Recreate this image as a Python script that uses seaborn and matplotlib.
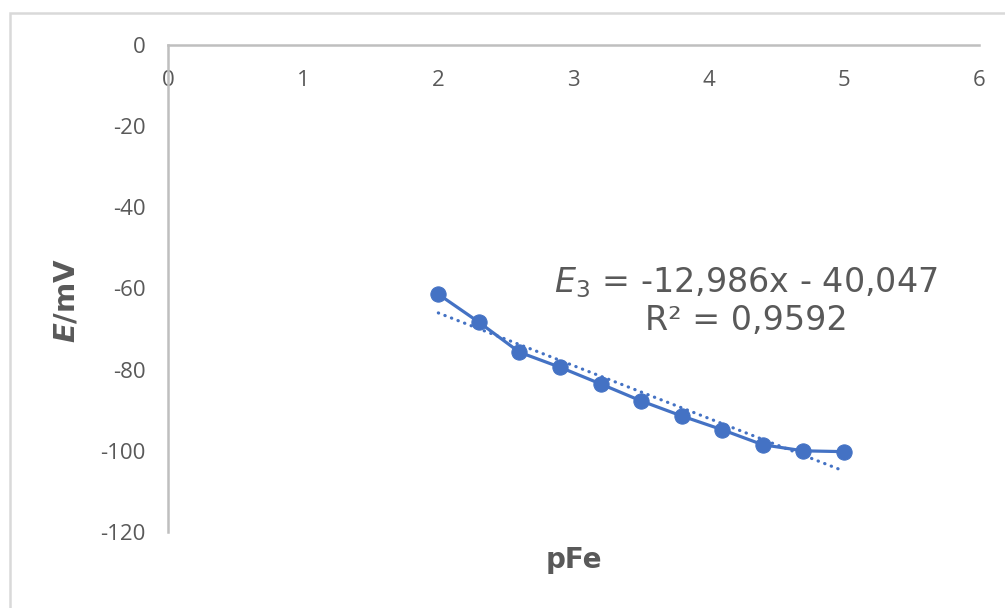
import pandas as pd
import seaborn as sns
import matplotlib.pyplot as plt
from matplotlib.patches import Rectangle

# values
pfe = [2.0, 2.3, 2.6, 2.9, 3.2, 3.5, 3.8, 4.1, 4.4, 4.7, 5.0]
e_mv = [-61.4, -68.3, -75.7, -79.4, -83.5, -87.7, -91.4, -94.8, -98.5, -100.0, -100.2]

# linear trendline as printed on the chart
slope = -12.986
intercept = -40.047
r_squared = "0,9592"

x_ticks = [0, 1, 2, 3, 4, 5, 6]
y_ticks = [0, -20, -40, -60, -80, -100, -120]

BLUE = "#4472C4"
GREY_TEXT = "#595959"
GREY_AXIS = "#BFBFBF"
GREY_BORDER = "#D9D9D9"

sns.set_theme(style="white")
plt.rcParams["font.family"] = ["DejaVu Sans"]
plt.rcParams["mathtext.fontset"] = "dejavusans"
plt.rcParams["axes.unicode_minus"] = False

df = pd.DataFrame({"pFe": pfe, "E": e_mv})
trend = pd.DataFrame({"pFe": [pfe[0], pfe[-1]]})
trend["E"] = slope * trend["pFe"] + intercept

fig = plt.figure(figsize=(10.05, 6.08), dpi=100)
ax = fig.add_axes([168 / 1005, 1 - 532 / 608, 811 / 1005, 487 / 608])
ax.set_facecolor("none")

# data series + dotted linear trendline
sns.lineplot(data=df, x="pFe", y="E", ax=ax, color=BLUE, lw=2.3,
             marker="o", markersize=11, markeredgecolor=BLUE, zorder=3)
sns.lineplot(data=trend, x="pFe", y="E", ax=ax, color=BLUE, lw=2.3,
             linestyle=(0, (0.1, 2.1)), dash_capstyle="round", zorder=4)

ax.set_xlim(0, 6)
ax.set_ylim(-120, 0)
ax.set_xticks(x_ticks)
ax.set_yticks(y_ticks)

for side in ["bottom", "right"]:
    ax.spines[side].set_visible(False)
for side in ["top", "left"]:
    ax.spines[side].set_visible(True)
    ax.spines[side].set_color(GREY_AXIS)
    ax.spines[side].set_linewidth(1.8)

# x axis sits at E = 0 (top), labels hang just below it
ax.xaxis.set_ticks_position("top")
ax.tick_params(axis="x", length=0, pad=-33, labelsize=16, labelcolor=GREY_TEXT)
ax.tick_params(axis="y", length=0, pad=16, labelsize=16, labelcolor=GREY_TEXT)
for lbl in ax.get_xticklabels() + ax.get_yticklabels():
    lbl.set_family("Open Sans")

ax.xaxis.set_label_position("bottom")
ax.set_xlabel("pFe", fontsize=20, fontweight="heavy", color=GREY_TEXT, labelpad=10)
ax.set_ylabel(r"$\mathbfit{E}$/mV", fontsize=21, fontweight="bold", color=GREY_TEXT)
ax.yaxis.set_label_coords(-0.108, 0.476)

slope_txt = f"{slope:.3f}".replace(".", ",")
icpt_txt = f"{abs(intercept):.3f}".replace(".", ",")
eq = f"$\\mathit{{E}}_{{\\mathit{{3}}}}$ = {slope_txt}x - {icpt_txt}\nR² = {r_squared}"
ax.text(0.7127, 0.474, eq, transform=ax.transAxes, ha="center", va="center",
        multialignment="center", fontsize=24, color=GREY_TEXT, linespacing=1.15)

# chart area frame (Excel style), runs off the right and bottom edges
fig.add_artist(Rectangle((10 / 1005, -0.1), 1.2, (1 - 13 / 608) + 0.1,
                         transform=fig.transFigure, fill=False,
                         edgecolor=GREY_BORDER, lw=1.8))

fig.savefig("out.png", dpi=100)
